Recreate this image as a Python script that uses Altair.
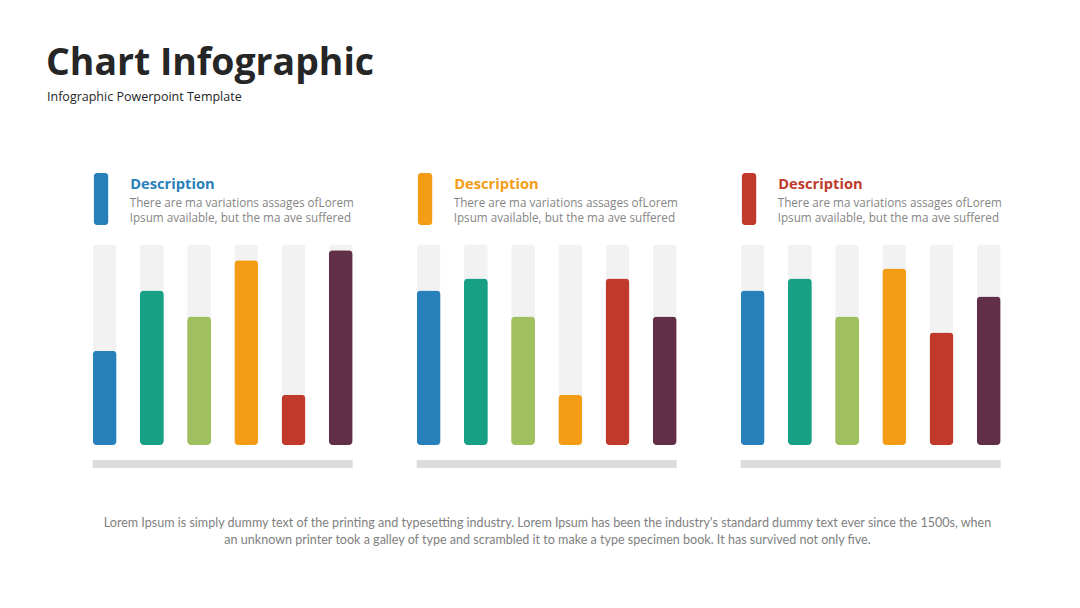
import altair as alt
import pandas as pd

# ---------------- data ----------------
panels = ["P1", "P2", "P3"]
items = ["a", "b", "c", "d", "e", "f"]
values_p1 = [47, 77, 64, 92, 25, 97]
values_p2 = [77, 83, 64, 25, 83, 64]
values_p3 = [77, 83, 64, 88, 56, 74]
bar_colors = ["#2880ba", "#17a086", "#a0bf5e", "#f39c14", "#c0392b", "#622f48"]
header_colors = ["#2880ba", "#f39c14", "#c0392b"]
header_title = "Description"
header_lines = ["There are ma variations assages ofLorem",
                "Ipsum available, but the ma ave suffered"]
title = "Chart Infographic"
subtitle = "Infographic Powerpoint Template"
footer_lines = [
    "Lorem Ipsum is simply dummy text of the printing and typesetting industry. Lorem Ipsum has been the industry's standard dummy text ever since the 1500s, when",
    "an unknown printer took a galley of type and scrambled it to make a type specimen book. It has survived not only five.",
]

rows = []
for p, vals in zip(panels, [values_p1, values_p2, values_p3]):
    for it, v in zip(items, vals):
        rows.append({"panel": p, "item": it, "value": v})
df = pd.DataFrame(rows)
panel_df = pd.DataFrame({"panel": panels})

# ---------------- layout ----------------
W, H = 1080, 608
PANEL_LEFT, PANEL_RIGHT = 92.7, 1000.7
PANEL_STEP = 324.0
Y_BOTTOM, Y_TOP = 445.0, 244.3

x_enc = alt.X("panel:N", axis=None,
              scale=alt.Scale(domain=panels, range=[PANEL_LEFT, PANEL_RIGHT],
                              paddingInner=0.1975, paddingOuter=0))
xo_enc = alt.XOffset("item:N",
                     scale=alt.Scale(domain=items, paddingInner=0.493, paddingOuter=0))
y_scale = alt.Scale(domain=[0, 100], range=[Y_BOTTOM, Y_TOP])

background = alt.Chart(df).transform_calculate(full="100").mark_bar(
    cornerRadius=4, color="#f2f2f2"
).encode(
    x=x_enc, xOffset=xo_enc,
    y=alt.Y("full:Q", scale=y_scale, axis=None),
)

bars = alt.Chart(df).mark_bar(cornerRadius=4).encode(
    x=x_enc, xOffset=xo_enc,
    y=alt.Y("value:Q", scale=y_scale, axis=None),
    color=alt.Color("item:N", scale=alt.Scale(domain=items, range=bar_colors), legend=None),
)

baseline = alt.Chart(panel_df).mark_rect(color="#dcdcdc").encode(
    x=x_enc, y=alt.value(460), y2=alt.value(468),
)

layers = [background, bars, baseline]

one = pd.DataFrame({"k": [0]})

def text_layer(txt, x, y, size, color, weight="normal", align="left", font="Open Sans"):
    return alt.Chart(one).mark_text(
        text=txt, align=align, baseline="alphabetic", fontSize=size,
        fontWeight=weight, color=color, font=font,
    ).encode(x=alt.value(x), y=alt.value(y))

for i, c in enumerate(header_colors):
    x0 = PANEL_LEFT + i * PANEL_STEP
    icon = alt.Chart(one).mark_rect(cornerRadius=3, color=c).encode(
        x=alt.value(x0 + 1.2), x2=alt.value(x0 + 15.5),
        y=alt.value(173), y2=alt.value(225),
    )
    layers.append(icon)
    layers.append(text_layer(header_title, x0 + 37.5, 188.5, 14.7, c, weight="bold"))
    layers.append(text_layer(header_lines[0], x0 + 37, 206.5, 11.7, "#858585"))
    layers.append(text_layer(header_lines[1], x0 + 37, 221.5, 11.7, "#858585"))

layers.append(text_layer(title, 46, 75, 37.4, "#262626", weight="bold", font="Open Sans"))
layers.append(text_layer(subtitle, 47, 101, 12.5, "#262626"))
layers.append(text_layer(footer_lines[0], 547.5, 527, 12.55, "#808080", align="center", font="Lato"))
layers.append(text_layer(footer_lines[1], 547.5, 544, 12.55, "#808080", align="center", font="Lato"))

chart = alt.layer(*layers).properties(
    width=W, height=H,
    autosize=alt.AutoSizeParams(type="none"),
    padding=0,
    background="white",
).configure_view(stroke=None)

chart.save("out.html", embed_options={"renderer": "svg", "actions": False})
